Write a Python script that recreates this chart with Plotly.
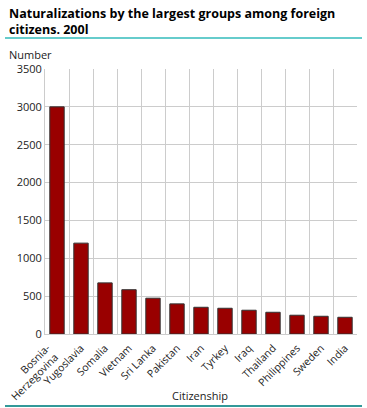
import plotly.graph_objects as go
import math

categories = ["Bosnia-Herzegovina", "Yugoslavia", "Somalia", "Vietnam", "Sri Lanka",
              "Pakistan", "Iran", "Tyrkey", "Iraq", "Thailand", "Philippines", "Sweden", "India"]
tick_labels = ["", "Yugoslavia", "Somalia", "Vietnam", "Sri Lanka",
               "Pakistan", "Iran", "Tyrkey", "Iraq", "Thailand", "Philippines", "Sweden", "India"]
first_label_lines = ["Bosnia-", "Herzegovina"]
values = [3000, 1200, 675, 585, 473, 398, 353, 340, 314, 287, 248, 234, 221]
y_ticks = [0, 500, 1000, 1500, 2000, 2500, 3000, 3500]

W, H = 367, 408
L, R, T, B = 45, 10, 69, 74
pw, ph = W - L - R, H - T - B

def px(x):
    return (x - L) / pw

def py(y):
    return (H - B - y) / ph

fig = go.Figure()
fig.add_trace(go.Bar(
    x=categories, y=values,
    marker=dict(color="#990000", line=dict(color="#333333", width=1)),
    width=0.6,
))

font = "Open Sans, sans-serif"
tick_size = 10.5

# rotated two-line label for first category, placed by the end point of each line
ann = []
off = 5.5
for line, (ex, ey) in zip(first_label_lines, [(50, 344), (58, 353)]):
    ann.append(dict(text=line, xref="paper", yref="paper", x=px(ex + off), y=py(ey - off),
                    xanchor="right", yanchor="top", textangle=-45, showarrow=False,
                    font=dict(size=tick_size)))

fig.update_layout(
    width=W, height=H,
    margin=dict(l=L, r=R, t=T, b=B, autoexpand=False),
    paper_bgcolor="white", plot_bgcolor="white",
    showlegend=False,
    font=dict(family=font, size=11, color="#222222"),
    xaxis=dict(
        type="category", tickangle=-45, tickson="boundaries",
        tickvals=categories, ticktext=tick_labels, ticklabelstandoff=3,
        showgrid=True, gridcolor="#cccccc", gridwidth=1,
        ticks="", showline=True, linecolor="#cccccc",
        tickfont=dict(size=tick_size), automargin=False,
    ),
    yaxis=dict(
        range=[0, 3500], tickvals=y_ticks,
        showgrid=True, gridcolor="#cccccc", gridwidth=1,
        zeroline=False, showline=True, linecolor="#cccccc",
        ticks="", tickfont=dict(size=11), automargin=False,
    ),
    annotations=[
        dict(text="<b>Naturalizations by the largest groups among foreign<br>citizens. 200l</b>",
             xref="paper", yref="paper", x=px(7), y=py(3), xanchor="left", yanchor="top",
             showarrow=False, align="left", font=dict(size=12.5, color="#000000")),
        dict(text="Number", xref="paper", yref="paper", x=px(7), y=py(45),
             xanchor="left", yanchor="top", showarrow=False, font=dict(size=11)),
        dict(text="Citizenship", xref="paper", yref="paper", x=px(200), y=py(386),
             xanchor="center", yanchor="top", showarrow=False, font=dict(size=11)),
    ] + ann,
    shapes=[
        dict(type="line", xref="paper", yref="paper", x0=px(5), x1=px(362), y0=py(38), y1=py(38),
             line=dict(color="#66cccc", width=2)),
        dict(type="line", xref="paper", yref="paper", x0=px(5), x1=px(362), y0=py(406), y1=py(406),
             line=dict(color="#339999", width=2)),
    ],
)

fig.write_html("out.html", config={"displayModeBar": False},
               post_script="document.body.style.margin='0';document.body.style.overflow='hidden';")
